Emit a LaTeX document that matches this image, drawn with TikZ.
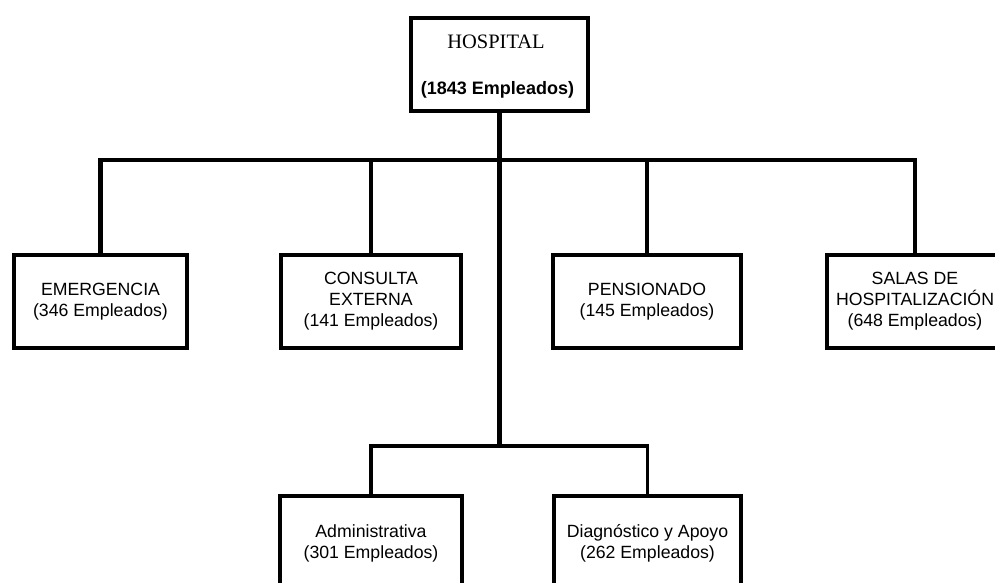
\documentclass[tikz,border=0pt]{standalone}
\usepackage{fontspec}
\setmainfont{Liberation Sans}
\newfontfamily\serifhosp{Liberation Serif}
\tikzset{
  orgbox/.style={draw=black, line width=4.5pt, fill=white, rectangle, inner sep=0pt,
    minimum height=93pt, align=center, font=\fontsize{17.7}{21}\selectfont},
  conn/.style={line width=4.5pt, line join=miter, line cap=rect},
  connthin/.style={line width=3.8pt, line join=miter, line cap=rect},
}
\begin{document}
\begin{tikzpicture}[x=1pt, y=-1pt]
\useasboundingbox (0,0) rectangle (995,582);
\clip (0,0) rectangle (995,582);
\fill[white] (0,0) rectangle (995,582);

% junctions
\coordinate (j1) at (499.5,160);
\coordinate (j2) at (499.5,446);

% connectors (drawn first, boxes on top)
\node[orgbox, minimum width=177pt] (hosp) at (499.5,64.5) {};
\node[orgbox, minimum width=173pt] (emer) at (100.5,301.5) {EMERGENCIA\\(346 Empleados)};
\node[orgbox, minimum width=180pt] (cons) at (371,301.5) {CONSULTA\\EXTERNA\\(141 Empleados)};
\node[orgbox, minimum width=188pt] (pens) at (647,301.5) {PENSIONADO\\(145 Empleados)};
\node[orgbox, minimum width=176pt] (sala) at (915,301.5) {SALAS DE\\HOSPITALIZACIÓN\\(648 Empleados)};
\node[orgbox, minimum width=182pt, minimum height=94pt] (admi) at (371,543) {Administrativa\\(301 Empleados)};
\node[orgbox, minimum width=187pt, minimum height=94pt] (diag) at (647.5,543) {Diagnóstico y Apoyo\\(262 Empleados)};

\node[font=\serifhosp\fontsize{20.5}{24}\selectfont, inner sep=0pt] (htitle) at (496,42) {HOSPITAL};
\node[font=\bfseries\fontsize{18}{21}\selectfont, inner sep=0pt] (hcount) at (497.5,90) {(1843 Empleados)};

\draw[conn] (hosp.south) -- (j2);
\draw[conn] (emer.north) |- (j1);
\draw[conn] (cons.north) -- (cons.north |- j1);
\draw[connthin] (j1) -| (sala.north);
\draw[conn] (pens.north) -- (pens.north |- j1);
\draw[connthin] (admi.north) |- (j2) -| (diag.north);
\end{tikzpicture}
\end{document}
